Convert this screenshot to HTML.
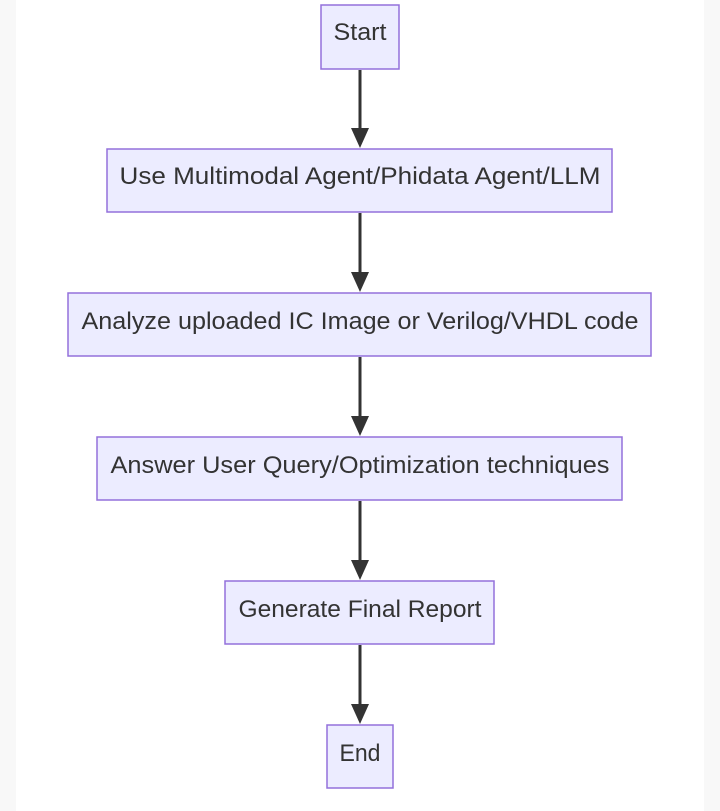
<!DOCTYPE html>
<html><head><meta charset="utf-8"><style>
html,body{margin:0;padding:0;background:#f8f8f8;}
svg{display:block}
text{font-family:"Liberation Sans",Arial,sans-serif;font-size:24px;fill:#333;text-anchor:middle}
</style></head><body>
<svg width="720" height="811" viewBox="0 0 720 811">
<rect x="16" y="0" width="688" height="811" fill="#ffffff"/>
<g fill="#ECECFF" stroke="#9370DB" stroke-width="1.5">
<rect x="321" y="5" width="78" height="64"/>
<rect x="107" y="149" width="505" height="63"/>
<rect x="68" y="293" width="583" height="63"/>
<rect x="97" y="437" width="525" height="63"/>
<rect x="225" y="581" width="269" height="63"/>
<rect x="327" y="725" width="66" height="63"/>
</g>
<g stroke="#333" stroke-width="3">
<line x1="360" y1="70" x2="360" y2="132"/>
<line x1="360" y1="213" x2="360" y2="276"/>
<line x1="360" y1="357" x2="360" y2="420"/>
<line x1="360" y1="501" x2="360" y2="564"/>
<line x1="360" y1="645" x2="360" y2="708"/>
</g>
<g fill="#333">
<polygon points="351,128 369,128 360,148"/>
<polygon points="351,272 369,272 360,292"/>
<polygon points="351,416 369,416 360,436"/>
<polygon points="351,560 369,560 360,580"/>
<polygon points="351,704 369,704 360,724"/>
</g>
<text x="360" y="40" textLength="53" lengthAdjust="spacingAndGlyphs">Start</text>
<text x="360" y="184" textLength="481" lengthAdjust="spacingAndGlyphs">Use Multimodal Agent/Phidata Agent/LLM</text>
<text x="360" y="329" textLength="557" lengthAdjust="spacingAndGlyphs">Analyze uploaded IC Image or Verilog/VHDL code</text>
<text x="360" y="473" textLength="499" lengthAdjust="spacingAndGlyphs">Answer User Query/Optimization techniques</text>
<text x="360" y="617" textLength="243" lengthAdjust="spacingAndGlyphs">Generate Final Report</text>
<text x="360" y="761" textLength="41" lengthAdjust="spacingAndGlyphs">End</text>
</svg>
</body></html>
